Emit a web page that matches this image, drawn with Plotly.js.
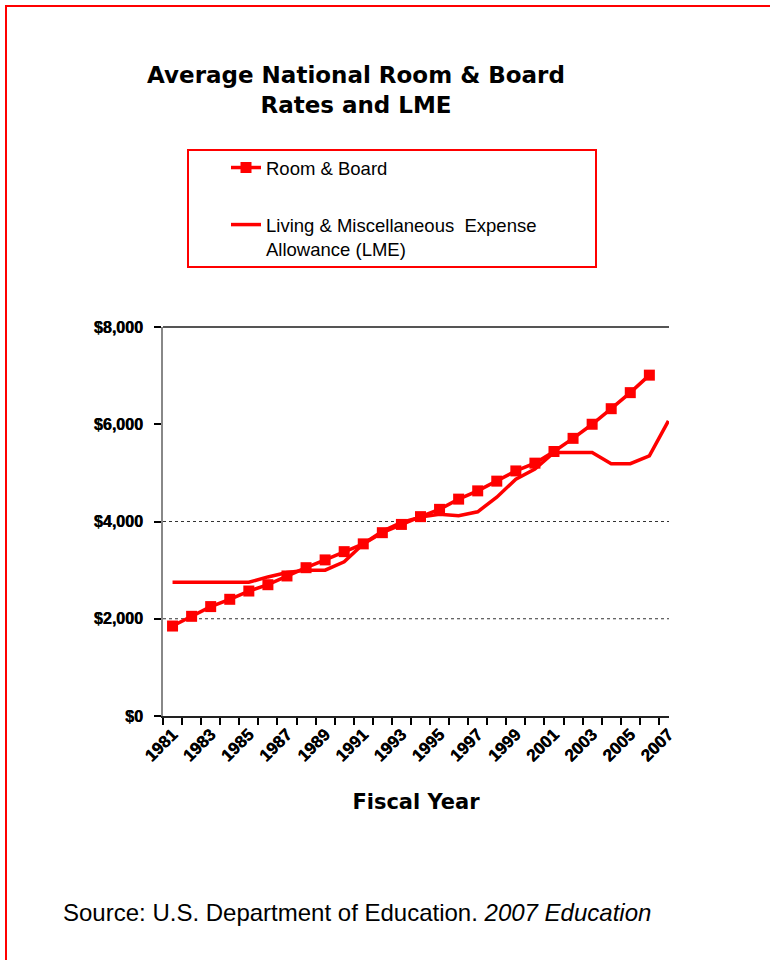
<!DOCTYPE html>
<html>
<head>
<meta charset="utf-8">
<script src="https://cdn.plot.ly/plotly-3.0.1.min.js"></script>
<style>
  html, body { margin: 0; padding: 0; background: #fff; }
  #chart { width: 770px; height: 960px; }
</style>
</head>
<body>
<div id="chart"></div>
<script>
// ---- data ----
const roomBoardYears = [1981,1982,1983,1984,1985,1986,1987,1988,1989,1990,1991,1992,1993,1994,1995,1996,1997,1998,1999,2000,2001,2002,2003,2004,2005,2006];
const roomBoardValues = [1850,2050,2250,2400,2570,2700,2880,3050,3210,3380,3540,3770,3940,4100,4250,4460,4630,4830,5040,5200,5440,5710,6000,6320,6650,7010];
const lmeYears = [1981,1982,1983,1984,1985,1986,1987,1988,1989,1990,1991,1992,1993,1994,1995,1996,1997,1998,1999,2000,2001,2002,2003,2004,2005,2006,2007];
const lmeValues = [2750,2750,2750,2750,2750,2860,2950,3000,3000,3170,3540,3800,3980,4090,4150,4120,4200,4500,4870,5080,5420,5420,5420,5190,5190,5350,6070];
const xTickYears = [1981,1983,1985,1987,1989,1991,1993,1995,1997,1999,2001,2003,2005,2007];
const xTickText = xTickYears.map(String);
const yTickVals = [0,2000,4000,6000,8000];
const yTickText = ['$0','$2,000','$4,000','$6,000','$8,000'];
const gridVals = [2000,4000];
const seriesNames = ['Room &amp; Board', 'Living &amp; Miscellaneous  Expense<br>Allowance (LME)'];

// ---- geometry helpers (pixel -> paper) ----
const W = 770, H = 960;
const M = {l: 163, r: 101, t: 327, b: 244};
const PW = W - M.l - M.r, PH = H - M.t - M.b;
const px = v => (v - M.l) / PW;
const py = v => (H - M.b - v) / PH;

const RED = '#ff0000';
const boundaries = roomBoardYears.concat([2007]).map(y => y - 0.5);
const heavy = '0.5px 0 0 #000';
const sans = 'Liberation Sans, Arial, sans-serif';

const traces = [
  {
    x: roomBoardYears, y: roomBoardValues, name: seriesNames[0],
    type: 'scatter', mode: 'lines+markers',
    line: {color: RED, width: 3.5},
    marker: {symbol: 'square', size: 11, color: RED},
    legendgroup: 'a'
  },
  {
    x: lmeYears, y: lmeValues, name: seriesNames[1],
    type: 'scatter', mode: 'lines',
    line: {color: RED, width: 3.5},
    legendgroup: 'b'
  }
];

const shapes = gridVals.map(v => ({
  type: 'line', xref: 'x domain', yref: 'y', x0: 0, x1: 1, y0: v, y1: v,
  line: {color: '#333', width: 1, dash: 'dot'}, layer: 'below'
}));
shapes.push({type: 'line', xref: 'x domain', yref: 'y domain', x0: 0, x1: 1, y0: 1, y1: 1,
  line: {color: '#555', width: 2}, layer: 'below'});
// legend box
shapes.push({type: 'rect', xref: 'paper', yref: 'paper',
  x0: px(188), x1: px(596), y0: py(150), y1: py(267),
  line: {color: RED, width: 2}, fillcolor: 'rgba(0,0,0,0)'});
// page frame
shapes.push({type: 'rect', xref: 'paper', yref: 'paper',
  x0: px(6), x1: px(800), y0: py(6), y1: py(1000),
  line: {color: RED, width: 2}, fillcolor: 'rgba(0,0,0,0)'});

const layout = {
  width: W, height: H,
  margin: {l: M.l, r: M.r, t: M.t, b: M.b, autoexpand: false},
  paper_bgcolor: '#fff', plot_bgcolor: '#fff',
  showlegend: true,
  title: {
    text: '<b>Average National Room &amp; Board<br>Rates and LME</b>',
    font: {family: 'DejaVu Sans', size: 23, color: '#000'},
    xref: 'container', x: 356 / W, xanchor: 'center',
    yref: 'container', y: 1 - 83 / H, yanchor: 'top'
  },
  legend: {
    xref: 'container', yref: 'container',
    x: 226 / W, y: 1 - 149 / H, xanchor: 'left', yanchor: 'top',
    bgcolor: 'rgba(0,0,0,0)', borderwidth: 0,
    font: {family: sans, size: 18.5, color: '#000'},
    tracegroupgap: 30, valign: 'top'
  },
  xaxis: {
    type: 'linear', range: [1980.5, 2007.03],
    tickmode: 'array', tickvals: xTickYears, ticktext: xTickText,
    tickangle: -45, ticks: '',
    tickfont: {family: sans, size: 17, color: '#000', weight: 'bold', shadow: heavy},
    minor: {tickmode: 'array', tickvals: boundaries, ticks: 'outside', ticklen: 7, tickwidth: 2, tickcolor: '#000', showgrid: false},
    showline: true, linecolor: '#222', linewidth: 2,
    showgrid: false, zeroline: false,
    title: {text: 'Fiscal Year', font: {family: 'DejaVu Sans', size: 21, color: '#000', weight: 'bold'}, standoff: 30}
  },
  yaxis: {
    range: [0, 8000],
    tickmode: 'array', tickvals: yTickVals, ticktext: yTickText,
    ticks: 'outside', ticklen: 7, tickwidth: 2, tickcolor: '#000',
    tickfont: {family: sans, size: 16, color: '#000', weight: 'bold', shadow: heavy},
    ticklabelstandoff: 8,
    showline: true, linecolor: '#888', linewidth: 2,
    showgrid: false, zeroline: false
  },
  shapes: shapes,
  annotations: [{
    xref: 'paper', yref: 'paper', x: px(61), y: py(912), xanchor: 'left', yanchor: 'middle',
    text: 'Source: U.S. Department of Education. <i>2007 Education</i>',
    showarrow: false,
    font: {family: sans, size: 24, color: '#000'}
  }]
};

Plotly.newPlot('chart', traces, layout, {displayModeBar: false, staticPlot: true});
</script>
</body>
</html>
